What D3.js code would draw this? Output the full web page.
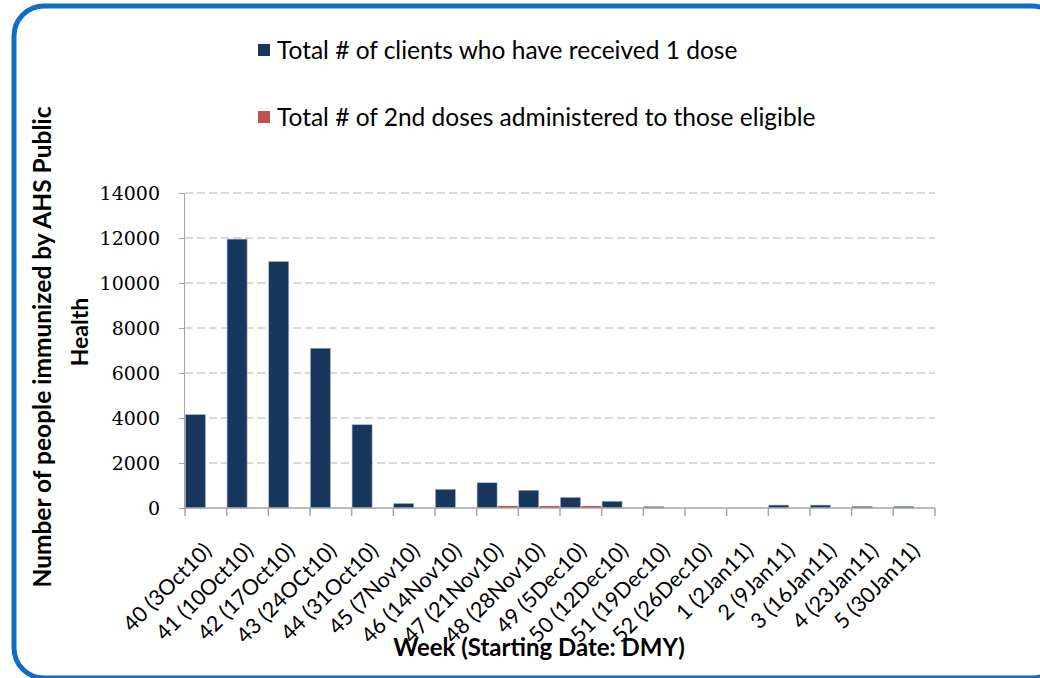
<!DOCTYPE html>
<html>
<head>
<meta charset="utf-8">
<script src="https://cdn.jsdelivr.net/npm/d3@7"></script>
<style>
  body { margin: 0; background: #fff; }
  svg { display: block; }
</style>
</head>
<body>
<div id="chart"></div>
<script>
// week labels along the x axis
const weeks = ["40 (3Oct10)", "41 (10Oct10)", "42 (17Oct10)", "43 (24OCt10)", "44 (31Oct10)",
    "45 (7Nov10)", "46 (14Nov10)", "47 (21Nov10)", "48 (28Nov10)", "49 (5Dec10)",
    "50 (12Dec10)", "51 (19Dec10)", "52 (26Dec10)", "1 (2Jan11)", "2 (9Jan11)",
    "3 (16Jan11)", "4 (23Jan11)", "5 (30Jan11)"];

// series values
const firstDose = [4150, 11950, 10950, 7100, 3700, 200, 830, 1120, 790, 470,
    300, 60, 0, 0, 130, 130, 70, 70];
const secondDose = [0, 0, 0, 0, 0, 0, 0, 90, 90, 90, 0, 0, 0, 0, 0, 0, 0, 0];

const seriesNames = ["Total # of clients who have received 1 dose",
    "Total # of 2nd doses administered to those eligible"];
const yTicks = [0, 2000, 4000, 6000, 8000, 10000, 12000, 14000];

const colors = ["#17375e", "#c0504d"];

const width = 1040;
const height = 678;
const plotLeft = 185, plotRight = 935, plotTop = 193, plotBottom = 508;

const svg = d3.select("#chart")
    .append("svg")
    .attr("width", width)
    .attr("height", height);

// rounded blue frame, clipped at the right and bottom
svg.append("rect")
    .attr("x", 14)
    .attr("y", 6)
    .attr("width", 1048)
    .attr("height", 672)
    .attr("rx", 30)
    .attr("fill", "none")
    .attr("stroke", "#106cc8")
    .attr("stroke-width", 5);

const x = d3.scaleBand()
    .domain(weeks)
    .range([plotLeft, plotRight])
    .padding(0);

const x1 = d3.scaleBand()
    .domain([0, 1])
    .range([0, x.bandwidth()])
    .paddingInner(0.04)
    .paddingOuter(0.02);

const y = d3.scaleLinear()
    .domain([0, 14000])
    .range([plotBottom, plotTop]);

// dashed gridlines
svg.append("g")
    .selectAll("line")
    .data(yTicks.filter(d => d > 0))
    .enter()
    .append("line")
    .attr("x1", plotLeft)
    .attr("x2", plotRight)
    .attr("y1", d => y(d))
    .attr("y2", d => y(d))
    .attr("stroke", "#b4b4b4")
    .attr("stroke-dasharray", "8,4");

// bars
const rows = weeks.map((w, i) => ({ week: w, vals: [firstDose[i], secondDose[i]] }));

const groups = svg.append("g")
    .selectAll("g")
    .data(rows)
    .enter()
    .append("g")
    .attr("transform", d => `translate(${x(d.week)},0)`);

groups.selectAll("rect")
    .data(d => d.vals.map((v, k) => ({ k: k, v: v })))
    .enter()
    .append("rect")
    .attr("x", d => x1(d.k))
    .attr("width", x1.bandwidth())
    .attr("y", d => y(d.v))
    .attr("height", d => y(0) - y(d.v))
    .attr("fill", d => colors[d.k])
    .attr("stroke", d => d.v > 0 ? "#9fb0c6" : "none")
    .attr("stroke-width", d => d.k === 0 ? 0.6 : 0);

// y axis
const yAxis = d3.axisLeft(y)
    .tickValues(yTicks)
    .tickSize(6)
    .tickPadding(19)
    .tickFormat(d3.format("d"));

const yg = svg.append("g")
    .attr("transform", `translate(${plotLeft},0)`)
    .call(yAxis);
yg.select(".domain").attr("stroke", "#a6a6a6").attr("d", `M-0.5,${plotTop}V${plotBottom}`);
yg.selectAll(".tick line").attr("stroke", "#a6a6a6");
yg.selectAll(".tick text")
    .attr("font-family", "'DejaVu Serif', serif")
    .attr("font-size", 19)
    .attr("fill", "#000");

// x axis
const xg = svg.append("g")
    .attr("transform", `translate(0,${plotBottom})`);
xg.append("line")
    .attr("x1", plotLeft)
    .attr("x2", plotRight)
    .attr("stroke", "#a6a6a6")
    .attr("stroke-width", 1.5);
xg.selectAll("line.tick")
    .data(weeks.concat([null]))
    .enter()
    .append("line")
    .attr("class", "tick")
    .attr("x1", (d, i) => plotLeft + i * x.bandwidth())
    .attr("x2", (d, i) => plotLeft + i * x.bandwidth())
    .attr("y1", 0)
    .attr("y2", 8)
    .attr("stroke", "#a6a6a6")
    .attr("stroke-width", 1.5);
xg.selectAll("text")
    .data(weeks)
    .enter()
    .append("text")
    .attr("transform", d => `translate(${x(d) + x.bandwidth() / 2 + 7},44) rotate(-45)`)
    .attr("text-anchor", "end")
    .attr("font-family", "Lato, sans-serif")
    .attr("font-size", 21.5)
    .attr("fill", "#000")
    .text(d => d);

// axis titles
svg.append("text")
    .attr("x", 539)
    .attr("y", 656)
    .attr("text-anchor", "middle")
    .attr("font-family", "Lato, sans-serif")
    .attr("font-weight", "bold")
    .attr("font-size", 24)
    .text("Week (Starting Date: DMY)");

svg.append("text")
    .attr("transform", "translate(51,347) rotate(-90)")
    .attr("text-anchor", "middle")
    .attr("font-family", "Lato, sans-serif")
    .attr("font-weight", "bold")
    .attr("font-size", 24.5)
    .text("Number of people immunized by AHS Public");
svg.append("text")
    .attr("transform", "translate(88,332) rotate(-90)")
    .attr("text-anchor", "middle")
    .attr("font-family", "Lato, sans-serif")
    .attr("font-weight", "bold")
    .attr("font-size", 23)
    .text("Health");

// legend
const legend = svg.append("g")
    .selectAll("g")
    .data(seriesNames)
    .enter()
    .append("g")
    .attr("transform", (d, i) => `translate(258,${44 + i * 67})`);
legend.append("rect")
    .attr("width", 12)
    .attr("height", 12)
    .attr("fill", (d, i) => colors[i]);
legend.append("text")
    .attr("x", 19)
    .attr("y", 15)
    .attr("font-family", "Lato, sans-serif")
    .attr("font-size", 24.5)
    .attr("fill", "#000")
    .text(d => d);
</script>
</body>
</html>
